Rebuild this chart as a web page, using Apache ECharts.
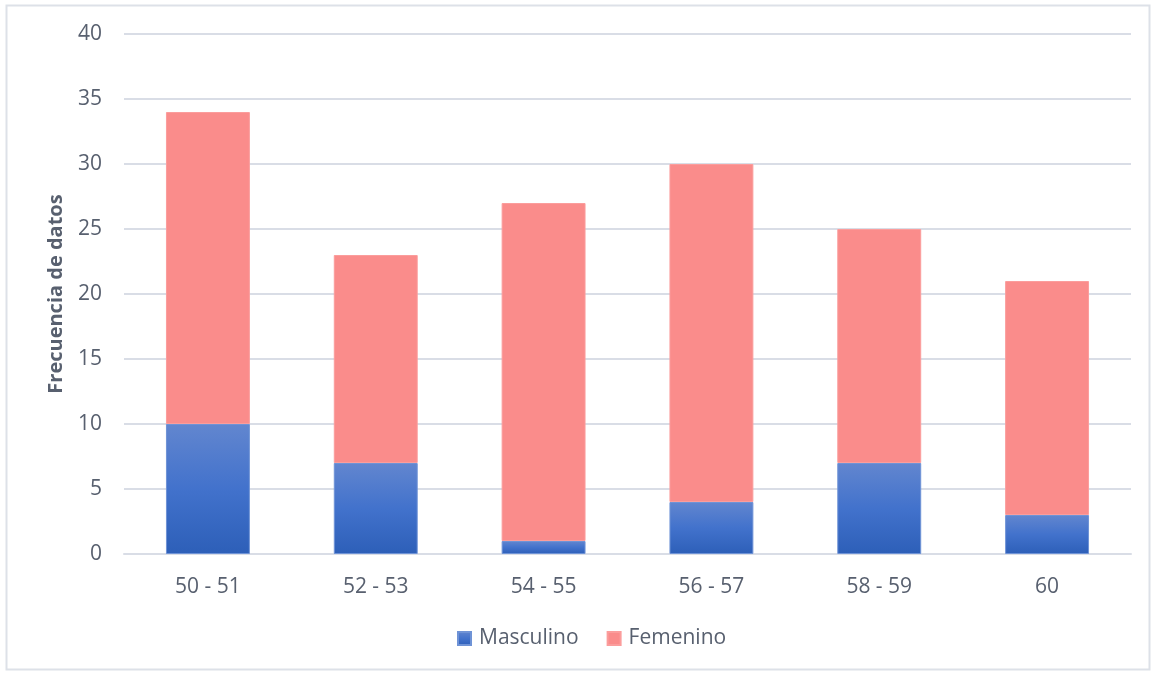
<!DOCTYPE html>
<html>
<head>
<meta charset="utf-8">
<style>
  html, body { margin: 0; padding: 0; background: #ffffff; }
  #chart { width: 1153px; height: 674px; }
</style>
<script src="https://cdn.jsdelivr.net/npm/echarts@6/dist/echarts.min.js"></script>
</head>
<body>
<div id="chart"></div>
<script>
// Age groups and counts per sex
const categories = ['50 - 51', '52 - 53', '54 - 55', '56 - 57', '58 - 59', '60'];
const masculino = [10, 7, 1, 4, 7, 3];
const femenino = [24, 16, 26, 26, 18, 18];
const yTicks = { min: 0, max: 40, interval: 5 };

const textColor = '#58606f';
const font = '"Open Sans", "Noto Sans", "Liberation Sans", sans-serif';

const chart = echarts.init(document.getElementById('chart'));
chart.setOption({
  animation: false,
  textStyle: { fontFamily: font },
  graphic: [{
    type: 'rect',
    shape: { x: 6.5, y: 5.5, width: 1143, height: 664 },
    style: { fill: 'none', stroke: '#dde1e8', lineWidth: 2 },
    silent: true
  }],
  grid: { left: 124, right: 22, top: 34, bottom: 120 },
  legend: {
    bottom: 20,
    left: 452,
    itemWidth: 13,
    itemHeight: 13,
    itemGap: 28,
    icon: 'rect',
    textStyle: { color: textColor, fontSize: 21, fontFamily: font, padding: [0, 0, 0, 3] },
    data: ['Masculino', 'Femenino']
  },
  xAxis: {
    type: 'category',
    data: categories,
    axisLine: { show: true, lineStyle: { color: '#d9dde6', width: 2 } },
    axisTick: { show: false },
    axisLabel: { color: textColor, fontSize: 21, margin: 23, fontFamily: font }
  },
  yAxis: {
    type: 'value',
    min: yTicks.min,
    max: yTicks.max,
    interval: yTicks.interval,
    name: 'Frecuencia de datos',
    nameLocation: 'middle',
    nameGap: 58,
    nameTextStyle: { color: textColor, fontSize: 20, fontWeight: 'bold', fontFamily: font },
    axisLine: { show: false },
    axisTick: { show: false },
    axisLabel: { color: textColor, fontSize: 21, margin: 22, fontFamily: font },
    splitLine: { lineStyle: { color: '#d9dde6', width: 2 } }
  },
  series: [
    {
      name: 'Masculino',
      type: 'bar',
      stack: 'total',
      barWidth: '50%',
      data: masculino,
      itemStyle: {
        color: new echarts.graphic.LinearGradient(0, 0, 0, 1, [
          { offset: 0, color: '#6286cf' },
          { offset: 0.5, color: '#4272cc' },
          { offset: 1, color: '#2d5fb8' }
        ]),
        borderColor: '#6f93d6',
        borderWidth: 1
      }
    },
    {
      name: 'Femenino',
      type: 'bar',
      stack: 'total',
      barWidth: '50%',
      data: femenino,
      itemStyle: {
        color: '#fa8c8b',
        borderColor: '#fb9d9c',
        borderWidth: 1
      }
    }
  ]
});
</script>
</body>
</html>
